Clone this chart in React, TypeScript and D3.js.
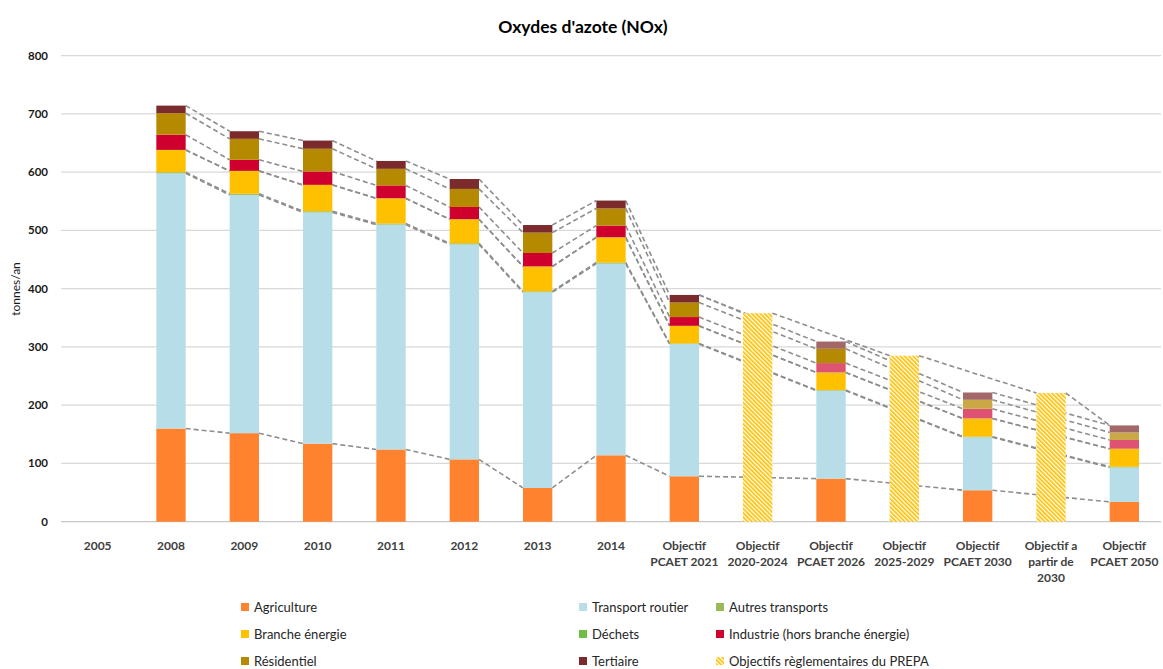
import React from "react";
import * as d3 from "d3";

const W = 1163;
const H = 669;

const categories = [
  "2005", "2008", "2009", "2010", "2011", "2012", "2013", "2014",
  "Objectif PCAET 2021", "Objectif 2020-2024", "Objectif PCAET 2026",
  "Objectif 2025-2029", "Objectif PCAET 2030", "Objectif a partir de 2030",
  "Objectif PCAET 2050",
];
const categoryLabelLines = [
  ["2005"], ["2008"], ["2009"], ["2010"], ["2011"], ["2012"], ["2013"], ["2014"],
  ["Objectif", "PCAET 2021"], ["Objectif", "2020-2024"], ["Objectif", "PCAET 2026"],
  ["Objectif", "2025-2029"], ["Objectif", "PCAET 2030"], ["Objectif a", "partir de", "2030"],
  ["Objectif", "PCAET 2050"],
];

const agriculture = [0, 160, 152, 134, 124, 107, 58, 114, 78, 0, 74, 0, 54, 0, 34];
const transportRoutier = [0, 438, 409, 397, 386, 369, 336, 329, 227, 0, 151, 0, 91, 0, 59];
const autresTransports = [0, 2, 2, 2, 2, 2, 1.5, 2, 1, 0, 1, 0, 1, 0, 1.5];
const brancheEnergie = [0, 38, 39, 45, 43, 41, 42.5, 43, 30, 0, 30, 0, 31, 0, 30.5];
const dechets = [0, 0.3, 0.3, 0.3, 0.3, 0.3, 0.3, 0.3, 0.3, 0, 0.3, 0, 0.3, 0, 0.3];
const industrie = [0, 26, 19, 23, 22, 21, 23, 20, 15, 0, 16, 0, 16.5, 0, 15];
const residentiel = [0, 37, 36, 39, 28.5, 31, 35, 29.5, 25, 0, 24.5, 0, 15.5, 0, 13];
const tertiaire = [0, 13, 13, 14, 13.5, 17, 13, 13.5, 13, 0, 12.5, 0, 12.5, 0, 12];
const objectifsPrepa = [0, 0, 0, 0, 0, 0, 0, 0, 0, 358, 0, 285, 0, 221, 0];

const yTicks = [0, 100, 200, 300, 400, 500, 600, 700, 800];

const seriesKeys = [
  "Agriculture", "Transport routier", "Autres transports", "Branche énergie",
  "Déchets", "Industrie (hors branche énergie)", "Résidentiel", "Tertiaire",
];
const seriesValues = [
  agriculture, transportRoutier, autresTransports, brancheEnergie,
  dechets, industrie, residentiel, tertiaire,
];
const seriesColors = [
  "#FF822E", "#B7DDE8", "#9BBB59", "#FFC000",
  "#6FBE44", "#D0002E", "#B58A00", "#7B2B2B",
];
// lighter fills used on some objective bars
const lightFills: Record<string, Record<string, string>> = {
  "Objectif PCAET 2026": { "Industrie (hors branche énergie)": "#DE5372", "Tertiaire": "#A26868" },
  "Objectif PCAET 2030": { "Industrie (hors branche énergie)": "#DE5372", "Tertiaire": "#A26868", "Résidentiel": "#CBA846" },
  "Objectif PCAET 2050": { "Industrie (hors branche énergie)": "#DE5372", "Tertiaire": "#A26868", "Résidentiel": "#CBA846" },
};

const legendItems = [
  ["Agriculture", "#FF822E"], ["Transport routier", "#B7DDE8"], ["Autres transports", "#9BBB59"],
  ["Branche énergie", "#FFC000"], ["Déchets", "#6FBE44"], ["Industrie (hors branche énergie)", "#D0002E"],
  ["Résidentiel", "#B58A00"], ["Tertiaire", "#7B2B2B"], ["Objectifs règlementaires du PREPA", "hatch"],
];

const FONT = "Lato, 'Open Sans', sans-serif";

export default function App() {
  const x = d3.scaleBand<string>().domain(categories).range([61, 1161]).paddingInner(0.6).paddingOuter(0.3);
  const y = d3.scaleLinear().domain([0, 800]).range([521.7, 55.7]);
  const bw = x.bandwidth();

  const rows = categories.map((c, i) => {
    const r: any = { cat: c };
    seriesKeys.forEach((k, j) => (r[k] = seriesValues[j][i]));
    return r;
  });
  const stacked = d3.stack<any>().keys(seriesKeys)(rows);

  const realIdx = categories.map((_, i) => i).filter((i) => d3.sum(seriesValues, (s) => s[i]) > 0);
  const totals = categories.map((_, i) => d3.sum(seriesValues, (s) => s[i]));

  const dash = "5,3";
  const lines: JSX.Element[] = [];
  stacked.forEach((s, j) => {
    for (let k = 0; k < realIdx.length - 1; k++) {
      const a = realIdx[k];
      const b = realIdx[k + 1];
      lines.push(
        <line key={`l${j}-${k}`} x1={x(categories[a])! + bw} x2={x(categories[b])!}
          y1={y(s[a][1])} y2={y(s[b][1])} stroke="#8E8E8E" strokeWidth={1.6} strokeDasharray={dash} />
      );
    }
  });
  // series line of the PREPA objectives
  const prepaPath = [8, 9, 11, 13, 14];
  const prepaTop = (i: number) => (objectifsPrepa[i] > 0 ? objectifsPrepa[i] : totals[i]);
  for (let k = 0; k < prepaPath.length - 1; k++) {
    const a = prepaPath[k];
    const b = prepaPath[k + 1];
    lines.push(
      <line key={`p${k}`} x1={x(categories[a])! + bw} x2={x(categories[b])!}
        y1={y(prepaTop(a))} y2={y(prepaTop(b))} stroke="#8E8E8E" strokeWidth={1.6} strokeDasharray={dash} />
    );
  }

  const legendCols = [241, 579, 716];
  const legendRows = [607, 634, 661];

  return (
    <div style={{ position: "absolute", left: 0, top: 0 }}>
      <svg width={W} height={H} style={{ display: "block", background: "#fff" }} fontFamily={FONT}>
        <defs>
          <pattern id="hatch" patternUnits="userSpaceOnUse" width={3} height={3} patternTransform="rotate(-45)">
            <rect width={3} height={3} fill="#FFFFFF" />
            <rect width={1.7} height={3} fill="#FFC000" />
          </pattern>
        </defs>
        <text x={583} y={33} textAnchor="middle" fontSize={17.5} fontWeight="bold" fill="#000">
          Oxydes d'azote (NOx)
        </text>
        {yTicks.map((t) => (
          <g key={t}>
            <line x1={61} x2={1161} y1={y(t)} y2={y(t)} stroke={t === 0 ? "#C8C8C8" : "#D9D9D9"} strokeWidth={1.3} />
            <text x={48} y={y(t) + 4} textAnchor="end" fontSize={11.5} fontWeight="bold" fill="#1a1a1a">{t}</text>
          </g>
        ))}
        <text transform={`translate(20,289) rotate(-90)`} textAnchor="middle" fontSize={12} fill="#1a1a1a">tonnes/an</text>
        {lines}
        {stacked.map((s, j) => (
          <g key={s.key}>
            {s.map((d, i) => {
              const v = d[1] - d[0];
              if (v <= 0) return null;
              const cat = categories[i];
              const fill = (lightFills[cat] && lightFills[cat][s.key as string]) || seriesColors[j];
              return (
                <rect key={i} x={x(cat)} width={bw} y={y(d[1])} height={y(d[0]) - y(d[1])} fill={fill} />
              );
            })}
          </g>
        ))}
        {objectifsPrepa.map((v, i) =>
          v > 0 ? (
            <rect key={`h${i}`} x={x(categories[i])} width={bw} y={y(v)} height={y(0) - y(v)} fill="url(#hatch)" />
          ) : null
        )}
        {categoryLabelLines.map((ls, i) => (
          <text key={`c${i}`} x={x(categories[i])! + bw / 2} textAnchor="middle" fontSize={12} fontWeight="bold" fill="#404040">
            {ls.map((l, k) => (
              <tspan key={k} x={x(categories[i])! + bw / 2} y={550 + k * 16}>{l}</tspan>
            ))}
          </text>
        ))}
        {legendItems.map(([name, color], i) => {
          const cx = legendCols[i % 3];
          const cy = legendRows[Math.floor(i / 3)];
          return (
            <g key={name}>
              <rect x={cx} y={cy - 4} width={8} height={8} fill={color === "hatch" ? "url(#hatch)" : color} />
              <text x={cx + 13} y={cy + 4.5} fontSize={13} fill="#262626">{name}</text>
            </g>
          );
        })}
      </svg>
    </div>
  );
}
